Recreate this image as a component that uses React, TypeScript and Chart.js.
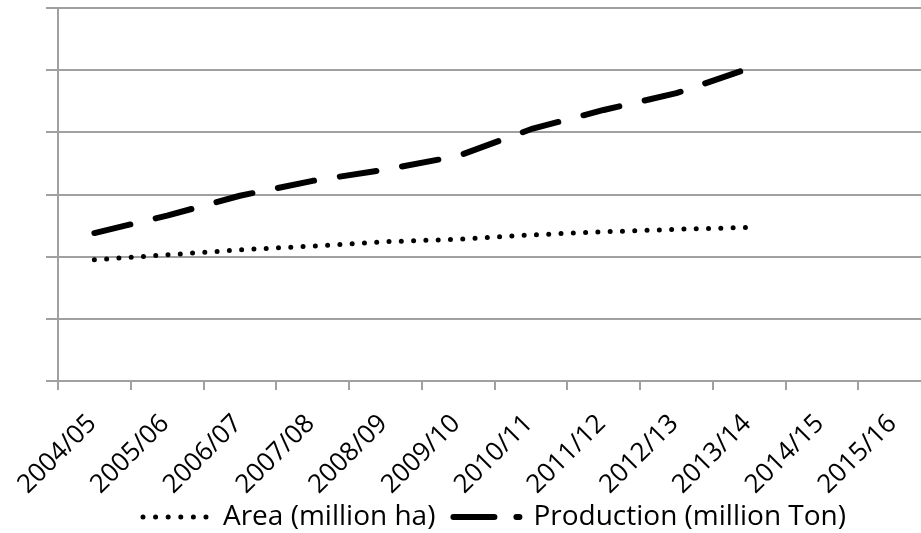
import React, { useEffect, useRef } from "react";
import { Chart, registerables } from "chart.js";

Chart.register(...registerables);

// ---- data ----
const categories = [
  "2004/05", "2005/06", "2006/07", "2007/08", "2008/09", "2009/10",
  "2010/11", "2011/12", "2012/13", "2013/14", "2014/15", "2015/16",
];
const areaValues = [19.5, 20.3, 21.1, 21.7, 22.4, 22.8, 23.5, 24.0, 24.4, 24.7];
const productionValues = [23.8, 26.6, 29.8, 32.2, 34.0, 36.2, 40.5, 43.6, 46.3, 50.3];
const areaLabel = "Area (million ha)";
const productionLabel = "Production (million Ton)";
const yMin = 0;
const yMax = 60;
const yStep = 10;

const FONT = "'Open Sans', 'Noto Sans', sans-serif";
const GRID = "#a0a0a0";
const CANVAS_W = 931;
const CANVAS_H = 533;
const AREA_DASH = [0, 12.3];
const PROD_DASH = [37, 26];

// draws the category labels rotated by exactly 45 degrees, at the x scale's positions
const rotatedLabels = {
  id: "rotatedLabels",
  afterDraw(chart: any) {
    const xs = chart.scales.x;
    const ctx = chart.ctx;
    ctx.save();
    ctx.font = `26px ${FONT}`;
    ctx.fillStyle = "#000";
    ctx.textAlign = "right";
    ctx.textBaseline = "middle";
    const labels: string[] = chart.data.labels;
    labels.forEach((lab, i) => {
      const px = xs.getPixelForValue(i);
      ctx.save();
      ctx.translate(px - 2, xs.top + 38.5);
      ctx.rotate(-Math.PI / 4);
      ctx.fillText(lab, 0, 0);
      ctx.restore();
    });
    ctx.restore();
  },
};

export default function App() {
  const ref = useRef<HTMLCanvasElement | null>(null);

  useEffect(() => {
    document.documentElement.style.overflow = "hidden";
    document.body.style.overflow = "hidden";
    const canvas = ref.current;
    if (!canvas) return;
    const chart = new Chart(canvas, {
      type: "line",
      data: {
        labels: categories,
        datasets: [
          {
            label: areaLabel,
            data: areaValues,
            borderColor: "#000",
            backgroundColor: "#000",
            borderWidth: 5,
            borderDash: AREA_DASH,
            borderCapStyle: "round",
            pointRadius: 0,
            fill: false,
            tension: 0,
          },
          {
            label: productionLabel,
            data: productionValues,
            borderColor: "#000",
            backgroundColor: "#000",
            borderWidth: 6,
            borderDash: PROD_DASH,
            borderCapStyle: "round",
            borderJoinStyle: "round",
            pointRadius: 0,
            fill: false,
            tension: 0,
          },
        ],
      },
      options: {
        responsive: false,
        animation: false,
        events: [],
        layout: { padding: { left: 46, right: 0, top: 8, bottom: -8 } },
        plugins: {
          tooltip: { enabled: false },
          legend: {
            position: "bottom",
            fullSize: false,
            labels: {
              usePointStyle: true,
              pointStyle: "line",
              pointStyleWidth: 66,
              padding: 18,
              color: "#000",
              font: { family: FONT, size: 28 },
              generateLabels: (c: any) => {
                const items = (Chart.defaults as any).plugins.legend.labels.generateLabels(c);
                if (items[0]) {
                  items[0].lineDash = [0, 12.6];
                  items[0].lineCap = "round";
                  items[0].lineWidth = 5;
                  items[0].strokeStyle = "#000";
                }
                if (items[1]) {
                  items[1].lineDash = [41, 22];
                  items[1].lineCap = "round";
                  items[1].lineWidth = 6;
                  items[1].strokeStyle = "#000";
                }
                return items;
              },
            },
          },
        },
        scales: {
          x: {
            type: "category",
            offset: true,
            grid: {
              offset: true,
              drawOnChartArea: false,
              drawTicks: true,
              tickLength: 9,
              color: GRID,
              lineWidth: 2,
            },
            border: { display: true, color: GRID, width: 2 },
            ticks: { display: false, autoSkip: false },
            afterFit: (s: any) => {
              s.height = 104;
            },
          },
          y: {
            min: yMin,
            max: yMax,
            ticks: { display: false, stepSize: yStep },
            grid: { color: GRID, lineWidth: 2, drawTicks: true, tickLength: 12 },
            border: { display: true, color: GRID, width: 2 },
          },
        },
      },
      plugins: [rotatedLabels],
    } as any);
    return () => chart.destroy();
  }, []);

  return (
    <div style={{ position: "fixed", left: 0, top: 0, width: CANVAS_W, height: CANVAS_H, background: "#fff" }}>
      <canvas ref={ref} width={CANVAS_W} height={CANVAS_H} style={{ display: "block" }} />
    </div>
  );
}
